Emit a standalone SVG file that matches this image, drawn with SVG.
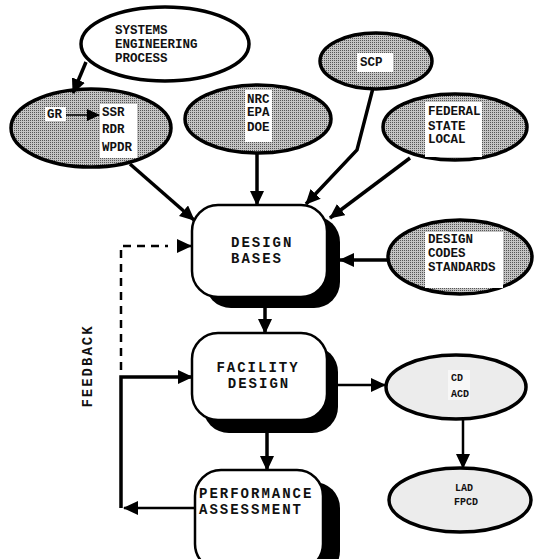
<svg xmlns="http://www.w3.org/2000/svg" width="534" height="559" viewBox="0 0 534 559">
<defs>
<pattern id="stip" width="2" height="2" patternUnits="userSpaceOnUse">
<rect width="2" height="2" fill="#c4c4c4"/>
<rect width="1" height="1" fill="#555"/>
</pattern>
<marker id="ah" markerUnits="userSpaceOnUse" markerWidth="16" markerHeight="14" refX="14" refY="7" orient="auto">
<path d="M0,0 L15,7 L0,14 z" fill="#000"/>
</marker>
<marker id="ahs" markerUnits="userSpaceOnUse" markerWidth="14" markerHeight="12" refX="12" refY="6" orient="auto">
<path d="M0,0 L13,6 L0,12 z" fill="#000"/>
</marker>
</defs>
<style>
.ell{stroke:#000;stroke-width:3.5}
.tb{fill:#fff}
.et{font-family:"Liberation Mono",monospace;font-weight:bold;font-size:12.5px;fill:#111}
.st{font-family:"Liberation Mono",monospace;font-weight:bold;font-size:10px;fill:#111}
.bt{font-family:"Liberation Mono",monospace;font-weight:bold;font-size:14px;letter-spacing:2px;fill:#111}
.box{fill:#fff;stroke:#000;stroke-width:2.5}
.sh{fill:#000}
.c{fill:none;stroke:#000;stroke-width:3.5}
.ct{fill:none;stroke:#000;stroke-width:2.5}
</style>
<rect width="534" height="559" fill="#fff"/>

<g id="sep">
<ellipse class="ell" cx="165" cy="44" rx="84" ry="37" fill="#fff"/>
<text class="et" x="115" y="34">SYSTEMS</text>
<text class="et" x="115" y="48">ENGINEERING</text>
<text class="et" x="115" y="62">PROCESS</text>
</g>

<g id="gr">
<ellipse class="ell" cx="91" cy="128" rx="80" ry="39" fill="url(#stip)"/>
<rect class="tb" x="45" y="107" width="21" height="14"/>
<rect class="tb" x="100" y="104" width="37" height="54"/>
<text class="et" x="47" y="118">GR</text>
<text class="et" x="102" y="116">SSR</text>
<text class="et" x="102" y="133">RDR</text>
<text class="et" x="102" y="151">WPDR</text>
</g>

<g id="nrc">
<ellipse class="ell" cx="258" cy="119" rx="73" ry="34" fill="url(#stip)"/>
<rect class="tb" x="245" y="90" width="27" height="52"/>
<text class="et" x="247" y="103">NRC</text>
<text class="et" x="247" y="116">EPA</text>
<text class="et" x="247" y="131">DOE</text>
</g>

<g id="scp">
<ellipse class="ell" cx="376" cy="61" rx="56" ry="28" fill="url(#stip)"/>
<rect class="tb" x="357" y="53" width="36" height="19"/>
<text class="et" x="360" y="66">SCP</text>
</g>

<g id="fed">
<ellipse class="ell" cx="455" cy="127" rx="72" ry="33" fill="url(#stip)"/>
<rect class="tb" x="425" y="102" width="57" height="55"/>
<text class="et" x="428" y="115">FEDERAL</text>
<text class="et" x="428" y="130">STATE</text>
<text class="et" x="428" y="143">LOCAL</text>
</g>

<g id="codes">
<ellipse class="ell" cx="460" cy="257" rx="72" ry="37" fill="url(#stip)"/>
<rect class="tb" x="425" y="232" width="78" height="56"/>
<text class="et" x="428" y="243">DESIGN</text>
<text class="et" x="428" y="257">CODES</text>
<text class="et" x="428" y="271">STANDARDS</text>
</g>

<g id="design-bases">
<rect class="sh" x="205" y="216" width="135" height="92" rx="26"/>
<rect class="box" x="192" y="205" width="135" height="92" rx="26"/>
<text class="bt" x="231" y="247">DESIGN</text>
<text class="bt" x="231" y="263">BASES</text>
</g>

<g id="facility-design">
<rect class="sh" x="203" y="346" width="135" height="87" rx="26"/>
<rect class="box" x="192" y="333" width="135" height="87" rx="26"/>
<text class="bt" x="258" y="372" text-anchor="middle">FACILITY</text>
<text class="bt" x="259" y="388" text-anchor="middle">DESIGN</text>
</g>

<g id="performance">
<rect class="sh" x="209" y="482" width="131" height="95" rx="26"/>
<rect class="box" x="195" y="470" width="128" height="100" rx="26"/>
<text class="bt" x="199" y="498" letter-spacing="1.5">PERFORMANCE</text>
<text class="bt" x="199" y="514" letter-spacing="1.5">ASSESSMENT</text>
</g>

<g id="cd">
<ellipse class="ell" cx="456" cy="387" rx="70" ry="32" fill="#ececec"/>
<rect x="448" y="370" width="22" height="30" fill="#f7f7f7"/>
<text class="st" x="451" y="381">CD</text>
<text class="st" x="451" y="397">ACD</text>
</g>

<g id="lad">
<ellipse class="ell" cx="460" cy="500" rx="71" ry="32" fill="#ececec"/>
<text class="st" x="455" y="491">LAD</text>
<text class="st" x="454" y="505">FPCD</text>
</g>

<text id="feedback" class="bt" transform="translate(92,366) rotate(-90)" text-anchor="middle">FEEDBACK</text>

<g id="connectors">
<line class="c" x1="86" y1="62" x2="73" y2="93" marker-end="url(#ah)"/>
<line x1="66" y1="115" x2="99" y2="115" stroke="#000" stroke-width="1.5" marker-end="url(#ahs)"/>
<line class="c" x1="130" y1="164" x2="194" y2="220" marker-end="url(#ah)"/>
<line class="c" x1="257" y1="153" x2="257" y2="205" marker-end="url(#ah)"/>
<polyline class="c" points="373,88 357,150 306,204" marker-end="url(#ah)"/>
<line class="c" x1="410" y1="158" x2="330" y2="218" marker-end="url(#ah)"/>
<line class="c" x1="388" y1="260" x2="340" y2="260" marker-end="url(#ah)"/>
<line class="c" x1="265" y1="308" x2="265" y2="333" marker-end="url(#ah)"/>
<line class="ct" x1="338" y1="385" x2="385" y2="385" marker-end="url(#ah)"/>
<line class="ct" x1="463" y1="419" x2="463" y2="468" marker-end="url(#ah)"/>
<line class="c" x1="267" y1="433" x2="267" y2="470" marker-end="url(#ah)"/>
<line class="ct" x1="195" y1="508" x2="124" y2="508" marker-end="url(#ah)"/>
<polyline class="c" points="121,508 121,377 192,377" marker-end="url(#ah)"/>
<polyline fill="none" stroke="#000" stroke-width="2.5" stroke-dasharray="8,6" points="121,370 121,246 168,246"/>
<line class="ct" x1="180" y1="246" x2="191" y2="246" marker-end="url(#ah)"/>
</g>
</svg>
